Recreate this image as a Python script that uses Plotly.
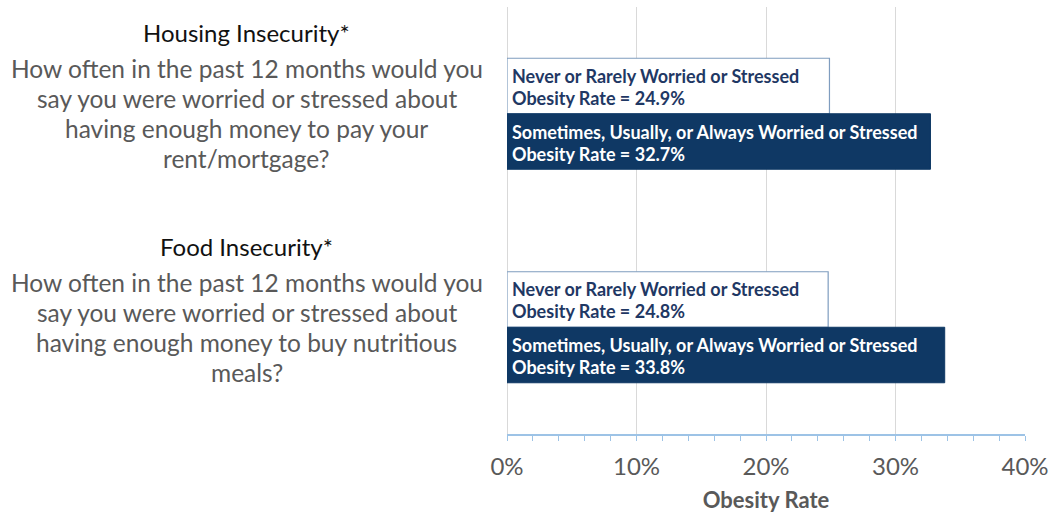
import plotly.graph_objects as go

categories = ["Housing Insecurity*", "Food Insecurity*"]
questions = [
    ["How often in the past 12 months would you", "say you were worried or stressed about",
     "having enough money to pay your", "rent/mortgage?"],
    ["How often in the past 12 months would you", "say you were worried or stressed about",
     "having enough money to buy nutritious", "meals?"],
]
never_label = "Never or Rarely Worried or Stressed"
sometimes_label = "Sometimes, Usually, or Always Worried or Stressed"
never_values = [24.9, 24.8]
sometimes_values = [32.7, 33.8]
tick_vals = [0, 10, 20, 30, 40]
tick_text = ["0%", "10%", "20%", "30%", "40%"]

DARK = "#0F3864"
NAVY_TEXT = "#1F3864"
GRAY = "#595959"
FONT = "Lato"

fig = go.Figure()
fig.add_trace(go.Bar(
    y=categories, x=never_values, orientation="h", name=never_label,
    marker=dict(color="white", line=dict(color="#7F9DBF", width=1.2)),
    hoverinfo="skip",
))
fig.add_trace(go.Bar(
    y=categories, x=sometimes_values, orientation="h", name=sometimes_label,
    marker=dict(color=DARK, line=dict(color=DARK, width=1)),
    hoverinfo="skip",
))

BAR_LINE = 22
for cat, nv, sv in zip(categories, never_values, sometimes_values):
    for center, label, val, col in [(28, never_label, nv, NAVY_TEXT), (-28, sometimes_label, sv, "white")]:
        lines = [label, f"Obesity Rate = {val}%"]
        for i, ln in enumerate(lines):
            fig.add_annotation(
                x=0, xref="x", y=cat, yref="y",
                yshift=center + BAR_LINE / 2 - i * BAR_LINE - 1,
                xshift=3, text=f"<b>{ln}</b>", showarrow=False,
                xanchor="left", yanchor="middle", align="left",
                font=dict(family=FONT, size=18, color=col),
            )

LINE = 30
for cat, q in zip(categories, questions):
    fig.add_annotation(
        x=-0.502, xref="paper", y=cat, yref="y", yshift=81,
        text=cat, showarrow=False, xanchor="center", yanchor="middle",
        font=dict(family=FONT, size=24, color="#111111"),
    )
    n = len(q)
    for i, ln in enumerate(q):
        fig.add_annotation(
            x=-0.502, xref="paper", y=cat, yref="y",
            yshift=(n - 1) / 2 * LINE - i * LINE,
            text=ln, showarrow=False, xanchor="center", yanchor="middle",
            font=dict(family=FONT, size=24.5, color=GRAY),
        )

fig.update_layout(
    width=1049, height=516,
    margin=dict(l=507, r=24, t=7, b=82),
    paper_bgcolor="white", plot_bgcolor="white",
    barmode="group", bargap=0.48, bargroupgap=0,
    showlegend=False,
    xaxis=dict(
        range=[0, 40], tickvals=tick_vals, ticktext=tick_text,
        automargin=False,
        showgrid=True, gridcolor="#D9D9D9", gridwidth=1,
        zeroline=True, zerolinecolor="#D9D9D9", zerolinewidth=1,
        showline=True, linecolor="#9DC3E6", linewidth=2,
        ticks="outside", ticklen=5, tickcolor="#9DC3E6", tickwidth=1,
        minor=dict(dtick=2, ticks="outside", ticklen=5, tickcolor="#9DC3E6", tickwidth=1, showgrid=False),
        tickfont=dict(family=FONT, size=24, color=GRAY),
        ticklabelstandoff=5,
        title=dict(text="<b>Obesity Rate</b>", font=dict(family=FONT, size=22, color=GRAY), standoff=14),
        fixedrange=True,
    ),
    yaxis=dict(
        autorange="reversed", showticklabels=False, showgrid=False,
        zeroline=False, showline=False, ticks="", automargin=False,
    ),
)

fig.write_html("out.html")
